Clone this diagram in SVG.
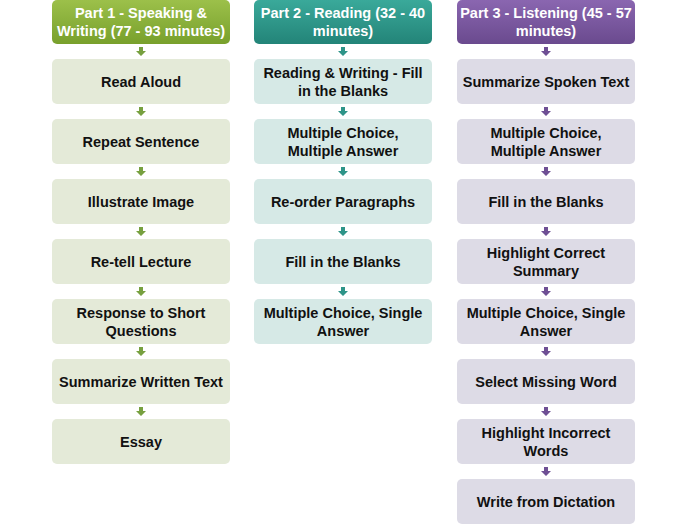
<svg xmlns="http://www.w3.org/2000/svg" width="687" height="524" viewBox="0 0 687 524">
<style>
text{font-family:"Liberation Sans",Arial,sans-serif;font-weight:bold;font-size:14.5px;text-anchor:middle;fill:#111}
.h{fill:#fff;font-size:14.5px}
.b1{fill:#e4ead8}.b2{fill:#d6e9e6}.b3{fill:#dddbe6}
</style>
<defs>
<linearGradient id="g1" x1="0" y1="0" x2="0" y2="1"><stop offset="0" stop-color="#9cc04a"/><stop offset="1" stop-color="#78a02c"/></linearGradient>
<linearGradient id="g2" x1="0" y1="0" x2="0" y2="1"><stop offset="0" stop-color="#3aa99a"/><stop offset="1" stop-color="#238478"/></linearGradient>
<linearGradient id="g3" x1="0" y1="0" x2="0" y2="1"><stop offset="0" stop-color="#8a66b0"/><stop offset="1" stop-color="#6a4a8e"/></linearGradient>
<path id="ar" d="M-2,0h4v4h3l-5,5l-5,-5h3z"/>
</defs>
<g id="connectors">
<g fill="#77a040">
<use href="#ar" x="141" y="47"/><use href="#ar" x="141" y="107"/><use href="#ar" x="141" y="167"/><use href="#ar" x="141" y="227"/><use href="#ar" x="141" y="287"/><use href="#ar" x="141" y="347"/><use href="#ar" x="141" y="407"/>
</g>
<g fill="#2e9488">
<use href="#ar" x="343" y="47"/><use href="#ar" x="343" y="107"/><use href="#ar" x="343" y="167"/><use href="#ar" x="343" y="227"/><use href="#ar" x="343" y="287"/>
</g>
<g fill="#6e4f94">
<use href="#ar" x="546" y="47"/><use href="#ar" x="546" y="107"/><use href="#ar" x="546" y="167"/><use href="#ar" x="546" y="227"/><use href="#ar" x="546" y="287"/><use href="#ar" x="546" y="347"/><use href="#ar" x="546" y="407"/><use href="#ar" x="546" y="467"/>
</g>
</g>
<g id="h1"><rect x="52" y="0" width="178" height="44" rx="5" fill="url(#g1)"/><text class="h" x="141" y="18">Part 1 - Speaking &amp;</text><text class="h" x="141" y="36">Writing (77 - 93 minutes)</text></g>
<g id="h2"><rect x="254" y="0" width="178" height="44" rx="5" fill="url(#g2)"/><text class="h" x="343" y="18">Part 2 - Reading (32 - 40</text><text class="h" x="343" y="36">minutes)</text></g>
<g id="h3"><rect x="457" y="0" width="178" height="44" rx="5" fill="url(#g3)"/><text class="h" x="546" y="18">Part 3 - Listening (45 - 57</text><text class="h" x="546" y="36">minutes)</text></g>

<g id="a1"><rect class="b1" x="52" y="59" width="178" height="45" rx="5"/><text x="141" y="87">Read Aloud</text></g>
<g id="a2"><rect class="b1" x="52" y="119" width="178" height="45" rx="5"/><text x="141" y="147">Repeat Sentence</text></g>
<g id="a3"><rect class="b1" x="52" y="179" width="178" height="45" rx="5"/><text x="141" y="207">Illustrate Image</text></g>
<g id="a4"><rect class="b1" x="52" y="239" width="178" height="45" rx="5"/><text x="141" y="267">Re-tell Lecture</text></g>
<g id="a5"><rect class="b1" x="52" y="299" width="178" height="45" rx="5"/><text x="141" y="318">Response to Short</text><text x="141" y="336">Questions</text></g>
<g id="a6"><rect class="b1" x="52" y="359" width="178" height="45" rx="5"/><text x="141" y="387">Summarize Written Text</text></g>
<g id="a7"><rect class="b1" x="52" y="419" width="178" height="45" rx="5"/><text x="141" y="447">Essay</text></g>

<g id="b1"><rect class="b2" x="254" y="59" width="178" height="45" rx="5"/><text x="343" y="78">Reading &amp; Writing - Fill</text><text x="343" y="96">in the Blanks</text></g>
<g id="b2"><rect class="b2" x="254" y="119" width="178" height="45" rx="5"/><text x="343" y="138">Multiple Choice,</text><text x="343" y="156">Multiple Answer</text></g>
<g id="b3"><rect class="b2" x="254" y="179" width="178" height="45" rx="5"/><text x="343" y="207">Re-order Paragraphs</text></g>
<g id="b4"><rect class="b2" x="254" y="239" width="178" height="45" rx="5"/><text x="343" y="267">Fill in the Blanks</text></g>
<g id="b5"><rect class="b2" x="254" y="299" width="178" height="45" rx="5"/><text x="343" y="318">Multiple Choice, Single</text><text x="343" y="336">Answer</text></g>

<g id="c1"><rect class="b3" x="457" y="59" width="178" height="45" rx="5"/><text x="546" y="87">Summarize Spoken Text</text></g>
<g id="c2"><rect class="b3" x="457" y="119" width="178" height="45" rx="5"/><text x="546" y="138">Multiple Choice,</text><text x="546" y="156">Multiple Answer</text></g>
<g id="c3"><rect class="b3" x="457" y="179" width="178" height="45" rx="5"/><text x="546" y="207">Fill in the Blanks</text></g>
<g id="c4"><rect class="b3" x="457" y="239" width="178" height="45" rx="5"/><text x="546" y="258">Highlight Correct</text><text x="546" y="276">Summary</text></g>
<g id="c5"><rect class="b3" x="457" y="299" width="178" height="45" rx="5"/><text x="546" y="318">Multiple Choice, Single</text><text x="546" y="336">Answer</text></g>
<g id="c6"><rect class="b3" x="457" y="359" width="178" height="45" rx="5"/><text x="546" y="387">Select Missing Word</text></g>
<g id="c7"><rect class="b3" x="457" y="419" width="178" height="45" rx="5"/><text x="546" y="438">Highlight Incorrect</text><text x="546" y="456">Words</text></g>
<g id="c8"><rect class="b3" x="457" y="479" width="178" height="45" rx="5"/><text x="546" y="507">Write from Dictation</text></g>
</svg>
